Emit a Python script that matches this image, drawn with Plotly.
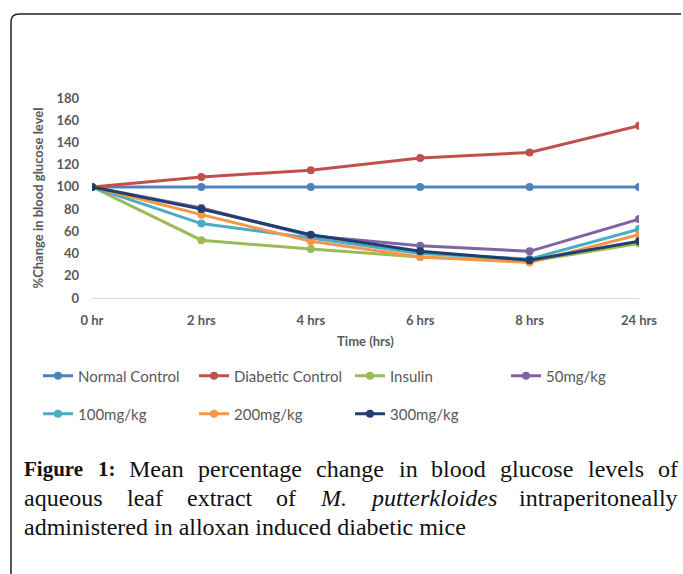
import plotly.graph_objects as go

# ---------------- data ----------------
time_labels = ["0 hr", "2 hrs", "4 hrs", "6 hrs", "8 hrs", "24 hrs"]
normal_control = [100, 100, 100, 100, 100, 100]
diabetic_control = [100, 109, 115, 126, 131, 155]
insulin = [100, 52, 44, 37, 33, 49]
dose_50 = [100, 81, 56, 47, 42, 71]
dose_100 = [100, 67, 54, 40, 35, 62]
dose_200 = [100, 75, 51, 37, 32, 57]
dose_300 = [100, 80, 57, 42, 34, 51]
y_ticks = [0, 20, 40, 60, 80, 100, 120, 140, 160, 180]

series_names = ["Normal Control", "Diabetic Control", "Insulin", "50mg/kg",
                "100mg/kg", "200mg/kg", "300mg/kg"]
series_values = [normal_control, diabetic_control, insulin, dose_50,
                 dose_100, dose_200, dose_300]
series_colors = ["#4F81BD", "#C0504D", "#9BBB59", "#8064A2",
                 "#4BACC6", "#F79646", "#1F3F6E"]
legend_groups = ["legend", "legend", "legend", "legend",
                 "legend2", "legend2", "legend2"]

caption_lines = [
    [("Figure", "b"), ("1:", "b"), ("Mean", ""), ("percentage", ""), ("change", ""),
     ("in", ""), ("blood", ""), ("glucose", ""), ("levels", ""), ("of", "")],
    [("aqueous", ""), ("leaf", ""), ("extract", ""), ("of", ""), ("M.", "i"),
     ("putterkloides", "i"), ("intraperitoneally", "")],
    [("administered in alloxan induced diabetic mice", "")],
]

# ---------------- geometry ----------------
W, H = 683, 574
L, R, T, B = 92, 639, 98, 298   # plot area in pixels


def px(x):
    return (x - L) / (R - L)


def py(y):
    return (B - y) / (B - T)


GRAY = "#595959"
FONT = "Lato"

fig = go.Figure()
for name, vals, col, lg in zip(series_names, series_values, series_colors, legend_groups):
    fig.add_trace(go.Scatter(
        x=time_labels, y=vals, name=name, mode="lines+markers",
        line=dict(color=col, width=3),
        marker=dict(color=col, size=8),
        legend=lg,
    ))

leg_common = dict(orientation="h", xanchor="left", yanchor="middle",
                  entrywidth=111, entrywidthmode="pixels", tracegroupgap=0,
                  font=dict(family=FONT, size=15, color=GRAY),
                  bgcolor="rgba(0,0,0,0)")

fig.update_layout(
    width=W, height=H,
    margin=dict(l=L, r=W - R, t=T, b=H - B),
    paper_bgcolor="white", plot_bgcolor="white",
    font=dict(family=FONT, color=GRAY, size=13),
    xaxis=dict(
        type="category", range=[0, len(time_labels) - 1],
        showgrid=False, showline=True, linecolor="#D9D9D9", linewidth=1,
        zeroline=False, ticks="", ticklabelstandoff=10,
        tickfont=dict(family=FONT, size=13, color=GRAY, weight="bold"),
        title=dict(text="Time (hrs)", standoff=10,
                   font=dict(family=FONT, size=13, color=GRAY, weight="bold")),
    ),
    yaxis=dict(
        range=[0, 180], tickvals=y_ticks, showgrid=False, zeroline=False,
        showline=False, ticks="", ticklabelstandoff=12,
        tickfont=dict(family=FONT, size=13, color=GRAY, weight="bold"),
        title=dict(text="%Change in blood glucose level", standoff=9,
                   font=dict(family=FONT, size=13, color=GRAY, weight="bold")),
    ),
    legend=dict(x=px(38), y=py(376), **leg_common),
    legend2=dict(x=px(38), y=py(414), **leg_common),
    showlegend=True,
)

# ---------------- frame (rounded top-left corner) ----------------
x0, y0, rad = 11, 14, 8
path = (f"M {px(x0)} {py(H + 5)} L {px(x0)} {py(y0 + rad)} "
        f"Q {px(x0)} {py(y0)} {px(x0 + rad)} {py(y0)} L {px(681)} {py(y0)}")
fig.add_shape(type="path", path=path, xref="paper", yref="paper",
              line=dict(color="#222222", width=1.5))

# ---------------- caption (justified, Times-metric widths) ----------------
SERIF = "Liberation Serif"
CAP = 24
CAP_BOLD = 21
REG = dict(a=444, b=500, c=444, d=500, e=444, f=333, g=500, h=500, i=278, j=278, k=500,
           l=278, m=778, n=500, o=500, p=500, q=500, r=333, s=389, t=278, u=500, v=500,
           w=722, x=500, y=500, z=444, M=889, F=556)
REG.update({" ": 250, ".": 250, ":": 278, "1": 500})
BOLD = dict(REG, F=611, u=556, r=444, **{":": 333})
ITAL = dict(REG, M=833, r=389, k=444)


def text_width(word, style):
    table = BOLD if style == "b" else ITAL if style == "i" else REG
    size = CAP_BOLD if style == "b" else CAP
    return sum(table.get(ch, 500) for ch in word) * size / 1000


left_x, right_x = 22, 676
line_y = [469, 498, 527]
for li, (words, yc) in enumerate(zip(caption_lines, line_y)):
    widths = [text_width(w, s) for w, s in words]
    justify = li < len(caption_lines) - 1 and len(words) > 1
    gap = (right_x - left_x - sum(widths)) / (len(words) - 1) if justify else 0
    xs = left_x
    for (w, s), wd in zip(words, widths):
        label = f"<b>{w}</b>" if s == "b" else f"<i>{w}</i>" if s == "i" else w
        fig.add_annotation(text=label, x=px(xs), y=py(yc), xref="paper", yref="paper",
                           xanchor="left", yanchor="middle", showarrow=False,
                           font=dict(family=SERIF, size=CAP_BOLD if s == "b" else CAP,
                                     color="#111111"))
        xs += wd + gap

fig.write_html("out.html", config={"displayModeBar": False},
               post_script="document.body.style.margin='0';")
